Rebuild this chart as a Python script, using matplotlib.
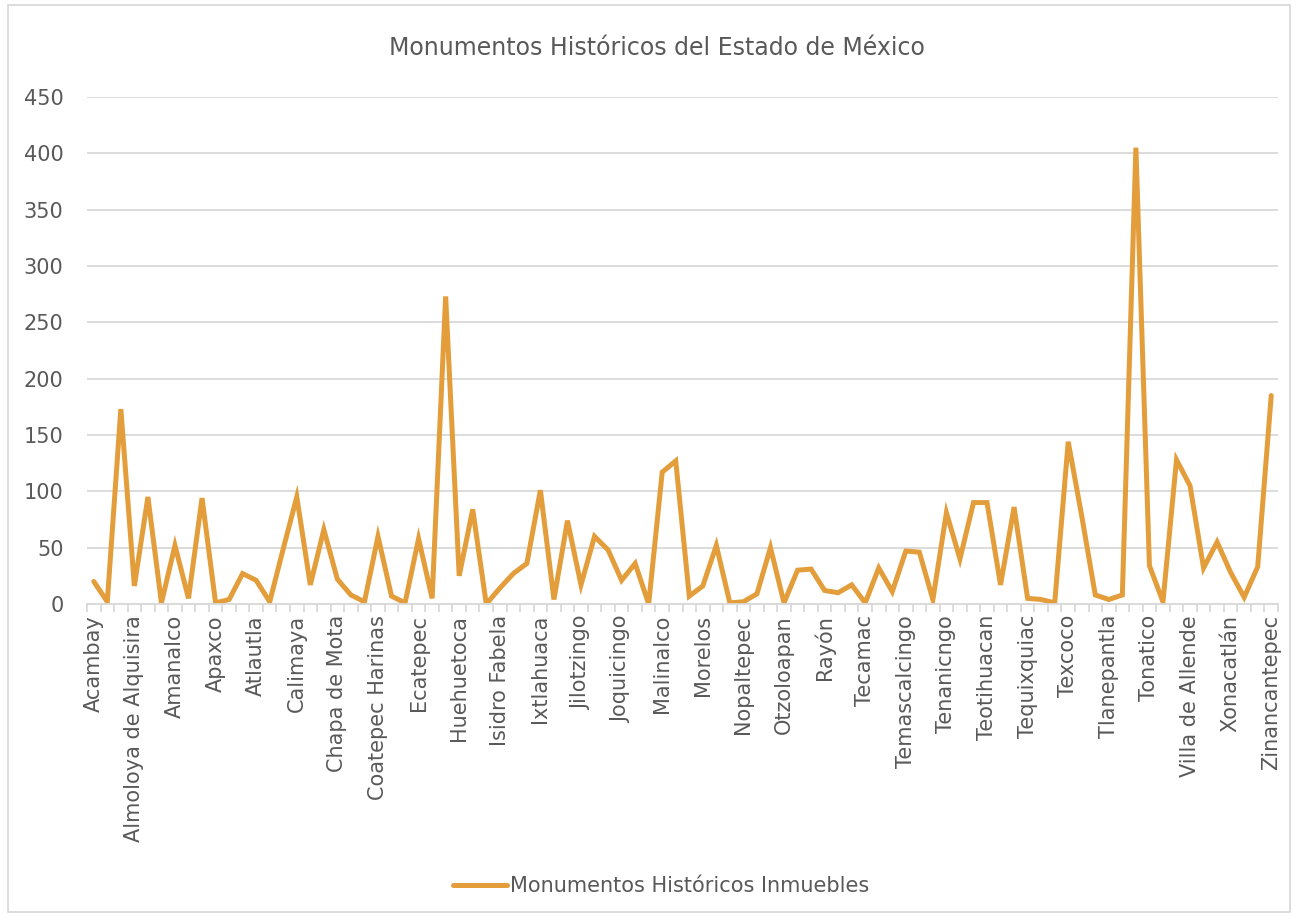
import numpy as np
import matplotlib
matplotlib.use("Agg")
from matplotlib import pyplot as plt
from matplotlib.patches import Rectangle

# Municipios (only every third name is shown on the axis)
municipios = [
    "Acambay", "Acolman", "Aculco", "Almoloya de Alquisira", "Almoloya de Juárez",
    "Almoloya del Río", "Amanalco", "Amatepec", "Amecameca", "Apaxco", "Atenco",
    "Atlacomulco", "Atlautla", "Axapusco", "Ayapango", "Calimaya", "Capulhuac",
    "Chalco", "Chapa de Mota", "Chapultepec", "Chiconcuac", "Coatepec Harinas",
    "Cocotitlán", "Donato Guerra", "Ecatepec", "Ecatzingo", "El Oro", "Huehuetoca",
    "Hueypoxtla", "Huixquilucan", "Isidro Fabela", "Ixtapaluca", "Ixtapan de la Sal",
    "Ixtlahuaca", "Jaltenco", "Jilotepec", "Jilotzingo", "Jiquipilco", "Jocotitlán",
    "Joquicingo", "Juchitepec", "Lerma", "Malinalco", "Metepec", "Mexicaltzingo",
    "Morelos", "Naucalpan", "Nicolás Romero", "Nopaltepec", "Ocoyoacac", "Ocuilan",
    "Otzoloapan", "Otzolotepec", "Ozumba", "Rayón", "San Felipe del Progreso",
    "Sultepec", "Tecamac", "Tejupilco", "Temascalapa", "Temascalcingo",
    "Temascaltepec", "Temoaya", "Tenanicngo", "Tenango del Aire", "Tenango del Valle",
    "Teotihuacan", "Tepetlaoxtoc", "Tepotzotlán", "Tequixquiac", "Texcaltitlán",
    "Texcalyacac", "Texcoco", "Tezoyuca", "Timilpan", "Tlanepantla", "Tlatlaya",
    "Toluca", "Tonatico", "Valle de Bravo", "Villa Guerrero", "Villa de Allende",
    "Villa del Carbón", "Villa Victoria", "Xonacatlán", "Zacazonapan", "Zacualpan",
    "Zinancantepec",
]

monumentos = [
    20, 2, 173, 16, 95, 1, 52, 5, 94, 1,
    4, 27, 21, 2, 49, 95, 17, 66, 22, 8,
    2, 60, 7, 1, 58, 5, 273, 25, 84, 0,
    14, 27, 36, 101, 4, 74, 17, 60, 48, 21,
    36, 0, 117, 127, 7, 16, 52, 1, 2, 9,
    50, 1, 30, 31, 12, 10, 17, 1, 32, 11,
    47, 46, 4, 81, 40, 90, 90, 17, 86, 5,
    4, 1, 144, 78, 8, 4, 8, 405, 34, 2,
    128, 105, 32, 55, 28, 6, 33, 185,
]

serie = "Monumentos Históricos Inmuebles"
titulo = "Monumentos Históricos del Estado de México"

gris = "#595959"
linea = "#D9D9D9"
naranja = "#E39E3B"

fig = plt.figure(figsize=(12.96, 9.17), dpi=100)
ax = fig.add_axes([87 / 1296, 1 - 604 / 917, (1278 - 87) / 1296, (604 - 97) / 917])

x = np.arange(len(monumentos))
ax.plot(x, monumentos, color=naranja, lw=3.6, solid_joinstyle="miter",
        solid_capstyle="round", label=serie)

ax.set_xlim(-0.5, len(monumentos) - 0.5)
ax.set_ylim(0, 450)
ax.set_yticks(np.arange(0, 451, 50))
ax.grid(axis="y", color=linea, lw=1.3)
ax.set_axisbelow(True)

for s in ["top", "right", "left"]:
    ax.spines[s].set_visible(False)
ax.spines["bottom"].set_color(linea)
ax.spines["bottom"].set_linewidth(1.3)

# labels every third category, ticks between categories
ax.set_xticks(x[::3])
ax.set_xticklabels(municipios[::3], rotation=90, fontsize=15, color=gris)
ax.set_xticks(np.arange(-0.5, len(monumentos), 1), minor=True)
ax.tick_params(axis="x", which="major", length=0, pad=8)
ax.tick_params(axis="x", which="minor", length=6, color=linea, width=1.3)
ax.tick_params(axis="y", length=0, labelsize=15, labelcolor=gris, pad=17)

fig.text(0.507, 1 - 48 / 917, titulo, ha="center", va="center",
         fontsize=17, color=gris)

leg = fig.legend(loc="center", bbox_to_anchor=(661 / 1296, 1 - 886 / 917), frameon=False,
                 fontsize=15, handlelength=2.6, handletextpad=0.1)
for t in leg.get_texts():
    t.set_color(gris)

fig.patches.append(Rectangle((8 / 1296, 5 / 917), 1282 / 1296, 907 / 917,
                             transform=fig.transFigure, fill=False,
                             edgecolor=linea, lw=1.3))

fig.savefig("out.png", dpi=100, facecolor="white")
